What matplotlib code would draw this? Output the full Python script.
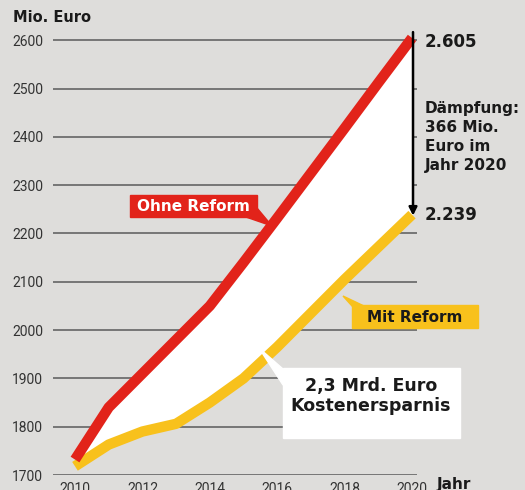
import matplotlib
matplotlib.use('Agg')
import matplotlib.pyplot as plt
from matplotlib.patches import Rectangle, Polygon

years = [2010, 2011, 2012, 2013, 2014, 2015, 2016, 2017, 2018, 2019, 2020]
ohne_reform = [1732, 1840, 1910, 1980, 2050, 2140, 2232, 2325, 2418, 2512, 2605]
mit_reform = [1718, 1763, 1790, 1806, 1850, 1900, 1965, 2035, 2105, 2172, 2239]
yticks = [1700, 1800, 1900, 2000, 2100, 2200, 2300, 2400, 2500, 2600]
xticks = [2010, 2012, 2014, 2016, 2018, 2020]

BG = '#dedddb'
RED = '#e2231a'
YEL = '#f8c11c'
DARK = '#1a1a1a'
FONT = 'DejaVu Sans'

W, H = 525, 490
fig = plt.figure(figsize=(W / 100, H / 100), dpi=100, facecolor=BG)
ax = fig.add_axes([53 / W, (H - 475) / H, (417 - 53) / W, (475 - 30) / H])
ax.set_facecolor(BG)
x0 = 2010 - 22 / 33.7
x1 = 2010 + (417 - 75) / 33.7
ax.set_xlim(x0, x1)
ax.set_ylim(1700, 1700 + (475 - 30) / 0.483)
for s in ax.spines.values():
    s.set_visible(False)


def px(x, y):
    # pixel position of the picture -> data coords
    return 2010 + (x - 75) / 33.7, 1700 + (475 - y) / 0.483


for v in yticks:
    ax.axhline(v, color='#5a5a5a', lw=1.1, zorder=1)

ax.fill_between(years, mit_reform, ohne_reform, color='white', lw=0, zorder=2)
ax.plot(years, ohne_reform, color=RED, lw=7.5, solid_capstyle='butt',
        solid_joinstyle='round', zorder=4, clip_on=False)
ax.plot(years, mit_reform, color=YEL, lw=7.5, solid_capstyle='butt',
        solid_joinstyle='round', zorder=3, clip_on=False)

ax.set_yticks(yticks)
ax.set_xticks(xticks)
ax.tick_params(length=0, labelsize=10, labelcolor='#333333')
ax.tick_params(axis='y', pad=7)
ax.tick_params(axis='x', pad=5)
for lab in ax.get_xticklabels() + ax.get_yticklabels():
    lab.set_fontfamily('Roboto')

# titles
fig.text(13 / W, (H - 18) / H, 'Mio. Euro', fontsize=10.5, fontweight='bold',
         family=FONT, color=DARK, va='center', ha='left')
fig.text(437 / W, (H - 484) / H, 'Jahr', fontsize=11, fontweight='bold',
         family=FONT, color=DARK, va='center', ha='left')

# Ohne Reform label
bx, by = px(130, 217)
bx2, by2 = px(257, 195)
ax.add_patch(Rectangle((bx, by), bx2 - bx, by2 - by, color=RED, zorder=6, clip_on=False))
ax.add_patch(Polygon([px(243, 216), px(257, 216), px(257, 208), px(272, 226)],
                     closed=True, color=RED, zorder=6, clip_on=False))
ax.text(*px(193.5, 206.5), 'Ohne Reform', color='white', fontsize=11,
        fontweight='bold', family=FONT, ha='center', va='center', zorder=7)

# Mit Reform label
bx, by = px(352, 328)
bx2, by2 = px(478, 305)
ax.add_patch(Rectangle((bx, by), bx2 - bx, by2 - by, color=YEL, zorder=6, clip_on=False))
ax.add_patch(Polygon([px(352, 306), px(364, 306), px(343, 296)],
                     closed=True, color=YEL, zorder=6, clip_on=False))
ax.text(*px(415, 317), 'Mit Reform', color=DARK, fontsize=11,
        fontweight='bold', family=FONT, ha='center', va='center', zorder=7)

# savings box
bx, by = px(283, 438)
bx2, by2 = px(460, 368)
ax.add_patch(Rectangle((bx, by), bx2 - bx, by2 - by, color='white', zorder=6, clip_on=False))
ax.add_patch(Polygon([px(283, 369), px(302, 369), px(283, 385), px(259, 348)],
                     closed=True, color='white', zorder=6, clip_on=False))
ax.text(*px(371, 396), '2,3 Mrd. Euro\nKostenersparnis', color=DARK, fontsize=12.5,
        fontweight='bold', family=FONT, ha='center', va='center',
        linespacing=1.2, zorder=7)

# difference arrow and values at 2020
ax.annotate('', xy=(2020.03, mit_reform[-1] - 2), xytext=(2020.03, ohne_reform[-1] + 12),
            arrowprops=dict(arrowstyle='-|>', color='black', lw=1.8,
                            mutation_scale=12, shrinkA=0, shrinkB=0),
            annotation_clip=False, zorder=8)
tx = px(425, 0)[0]
ax.text(tx, ohne_reform[-1] - 8, '2.605', fontsize=12, fontweight='bold',
        family=FONT, color=DARK, ha='left', va='center', clip_on=False)
ax.text(tx, mit_reform[-1], '2.239', fontsize=12, fontweight='bold',
        family=FONT, color=DARK, ha='left', va='center', clip_on=False)
ax.text(tx, px(0, 137)[1], 'Dämpfung:\n366 Mio.\nEuro im\nJahr 2020', fontsize=11,
        fontweight='bold', family=FONT, color=DARK, ha='left',
        va='center', linespacing=1.35, clip_on=False)

fig.savefig('out.png', dpi=100, facecolor=BG)
